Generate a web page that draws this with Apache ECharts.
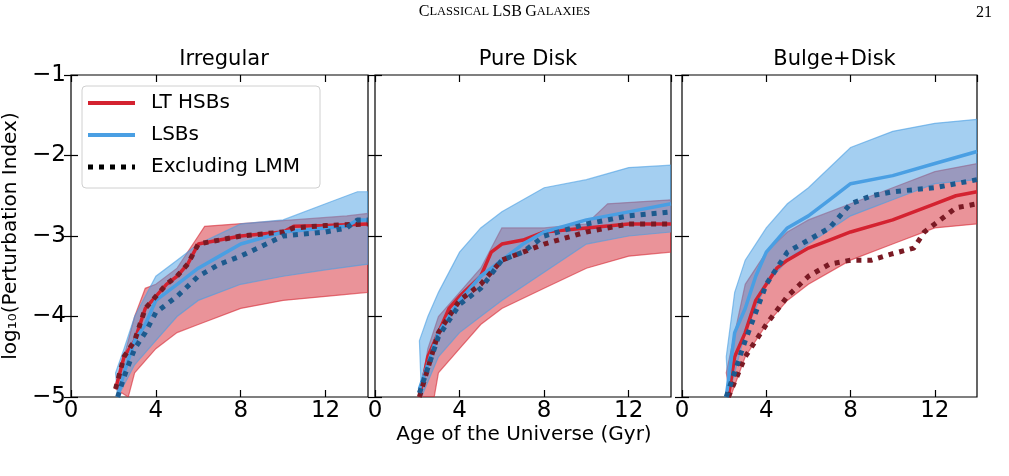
<!DOCTYPE html>
<html>
<head>
<meta charset="utf-8">
<script src="https://cdn.jsdelivr.net/npm/echarts@6/dist/echarts.min.js"></script>
<style>html,body{margin:0;padding:0;background:#fff}#chart{width:1009px;height:476px}</style>
</head>
<body>
<div id="chart"></div>
<script>
// panel titles, legend names and tick labels
var panels = ['Irregular', 'Pure Disk', 'Bulge+Disk'];
var legendNames = ['LT HSBs', 'LSBs', 'Excluding LMM'];
var xTicks = [0, 4, 8, 12];
var yTicks = [-1, -2, -3, -4, -5];

// Irregular
var irrHsb = [[2.1,-4.9],[2.5,-4.5],[3,-4.3],[3.5,-3.9],[4,-3.75],[4.5,-3.6],[5,-3.5],[5.5,-3.35],[6,-3.1],[7,-3.05],[8,-3.0],[10,-2.95],[10.5,-2.88],[12,-2.87],[14,-2.85]];
var irrHsbEx = [[2.1,-4.9],[2.5,-4.5],[3,-4.3],[3.5,-3.9],[4,-3.75],[4.5,-3.6],[5,-3.5],[5.5,-3.35],[6,-3.1],[7,-3.05],[8,-3.0],[10,-2.95],[10.5,-2.9],[12,-2.87],[14,-2.85]];
var irrLsb = [[2.2,-5],[2.5,-4.7],[3,-4.3],[3.5,-4.1],[4,-3.8],[5,-3.6],[6,-3.4],[7,-3.25],[8,-3.1],[10,-2.95],[12,-2.9],[13,-2.88],[13.5,-2.8],[14,-2.8]];
var irrLsbEx = [[2.2,-5],[2.5,-4.75],[3,-4.4],[3.5,-4.2],[4,-3.95],[5,-3.75],[6,-3.5],[7,-3.35],[8,-3.25],[10,-3.0],[12,-2.95],[13,-2.9],[13.5,-2.8],[14,-2.8]];
var irrHsbHi = [[2.1,-4.9],[2.5,-4.5],[3,-4.0],[3.5,-3.65],[4,-3.6],[5,-3.4],[6,-3.0],[6.3,-2.88],[13,-2.75],[14,-2.72]];
var irrHsbLo = [[2.7,-5],[3,-4.7],[4,-4.4],[5,-4.2],[6,-4.1],[8,-3.9],[10,-3.8],[12,-3.75],[14,-3.7]];
var irrLsbHi = [[2.1,-4.7],[2.5,-4.4],[3,-4.0],[4,-3.5],[5,-3.3],[6,-3.1],[8,-2.85],[10,-2.8],[12,-2.6],[13.5,-2.45],[14,-2.45]];
var irrLsbLo = [[2.2,-5],[3,-4.6],[4,-4.3],[5,-4.0],[6,-3.8],[8,-3.6],[10,-3.5],[12,-3.42],[14,-3.35]];

// Pure Disk
var pdHsb = [[2.1,-5],[2.5,-4.5],[3,-4.2],[3.5,-3.9],[4,-3.75],[5,-3.5],[5.5,-3.2],[6,-3.1],[7,-3.05],[8,-2.95],[10,-2.9],[12,-2.85],[14,-2.85]];
var pdHsbEx = [[2.1,-5],[3,-4.2],[4,-3.8],[5,-3.6],[6,-3.3],[7,-3.2],[8,-3.1],[10,-2.95],[12,-2.85],[14,-2.85]];
var pdLsb = [[2.1,-4.9],[3,-4.2],[4,-3.8],[5,-3.5],[6,-3.3],[7,-3.1],[8,-2.95],[10,-2.8],[12,-2.7],[14,-2.6]];
var pdLsbEx = [[2.1,-4.95],[3,-4.25],[4,-3.85],[5,-3.65],[6,-3.3],[7,-3.2],[8,-3.0],[10,-2.85],[12,-2.75],[14,-2.7]];
var pdHsbHi = [[2.1,-5],[2.5,-4.4],[3,-4.0],[4,-3.7],[5,-3.4],[6,-2.9],[8,-2.9],[10,-2.85],[11,-2.6],[14,-2.55]];
var pdHsbLo = [[2.8,-5],[3,-4.7],[4,-4.4],[5,-4.1],[6,-3.9],[8,-3.65],[10,-3.4],[12,-3.25],[14,-3.2]];
var pdLsbHi = [[2.1,-4.3],[2.5,-4.0],[3,-3.7],[4,-3.2],[5,-2.9],[6,-2.7],[8,-2.4],[10,-2.3],[12,-2.15],[14,-2.12]];
var pdLsbLo = [[2.2,-5],[3,-4.5],[4,-4.2],[5,-4.0],[6,-3.8],[8,-3.45],[10,-3.1],[12,-3.0],[14,-2.95]];

// Bulge+Disk
var bdHsb = [[2.2,-5],[2.5,-4.5],[3,-4.2],[3.5,-3.8],[4,-3.6],[4.5,-3.4],[5,-3.3],[6,-3.15],[7,-3.05],[8,-2.95],[10,-2.8],[12,-2.6],[13,-2.5],[14,-2.45]];
var bdHsbEx = [[2.2,-5],[3,-4.5],[4,-4.1],[5,-3.75],[6,-3.5],[7,-3.35],[8,-3.3],[9,-3.3],[10,-3.22],[11,-3.15],[11.5,-2.95],[12,-2.85],[13,-2.65],[14,-2.6]];
var bdLsb = [[2.1,-5],[2.5,-4.2],[3,-3.9],[3.5,-3.5],[4,-3.2],[5,-2.9],[6,-2.75],[7,-2.55],[8,-2.35],[10,-2.25],[12,-2.1],[14,-1.95]];
var bdLsbEx = [[2.1,-5],[3,-4.3],[4,-3.6],[5,-3.2],[6,-3.05],[7,-2.9],[8,-2.6],[9,-2.5],[10,-2.45],[12,-2.4],[14,-2.3]];
var bdHsbHi = [[2.1,-4.7],[3,-3.6],[4,-3.2],[5,-2.95],[6,-2.8],[8,-2.6],[10,-2.4],[12,-2.2],[14,-2.1]];
var bdHsbLo = [[2.3,-5],[3,-4.5],[4,-4.1],[5,-3.8],[6,-3.6],[8,-3.3],[10,-3.1],[12,-2.9],[14,-2.85]];
var bdLsbHi = [[2.1,-4.5],[2.5,-3.7],[3,-3.3],[4,-2.9],[5,-2.6],[6,-2.4],[8,-1.9],[10,-1.7],[12,-1.6],[14,-1.55]];
var bdLsbLo = [[2.2,-5],[3,-4.2],[4,-3.6],[5,-3.3],[6,-3.1],[8,-2.75],[10,-2.55],[12,-2.35],[14,-2.3]];

var data = [
    {hsb: irrHsb, hsbEx: irrHsbEx, lsb: irrLsb, lsbEx: irrLsbEx, hsbHi: irrHsbHi, hsbLo: irrHsbLo, lsbHi: irrLsbHi, lsbLo: irrLsbLo},
    {hsb: pdHsb, hsbEx: pdHsbEx, lsb: pdLsb, lsbEx: pdLsbEx, hsbHi: pdHsbHi, hsbLo: pdHsbLo, lsbHi: pdLsbHi, lsbLo: pdLsbLo},
    {hsb: bdHsb, hsbEx: bdHsbEx, lsb: bdLsb, lsbEx: bdLsbEx, hsbHi: bdHsbHi, hsbLo: bdHsbLo, lsbHi: bdLsbHi, lsbLo: bdLsbLo}
];

var RED = '#d42230', BLUE = '#4a9fe3', DRED = '#7a1a24', DBLUE = '#1d5a8e';
var gridPos = [[70, 298], [375, 296], [682, 295]];
var FONT = 'DejaVu Sans';
var DOT = [5, 6];

function bandSeries(i, hi, lo, fill, edge) {
    var poly = hi.concat(lo.slice().reverse());
    return {
        type: 'custom', xAxisIndex: i * 2, yAxisIndex: i * 2, silent: true,
        data: [0], clip: true, z: 1,
        renderItem: function (params, api) {
            var pts = poly.map(function (p) { return api.coord(p); });
            return {type: 'polygon', shape: {points: pts},
                style: {fill: fill, stroke: edge, lineWidth: 1.2}};
        }
    };
}
function lineSeries(i, d, color, dotted, z) {
    return {
        type: 'line', xAxisIndex: i * 2, yAxisIndex: i * 2, data: d,
        showSymbol: false, symbol: 'none', clip: true, z: z, silent: true,
        lineStyle: dotted ? {color: color, width: 5, type: DOT, cap: 'butt'} : {color: color, width: 3.5}
    };
}

var grids = [], xAxes = [], yAxes = [], titles = [], series = [];
gridPos.forEach(function (g, i) {
    grids.push({left: g[0], width: g[1], top: 75, height: 322, show: true, borderColor: '#000', borderWidth: 1.2, backgroundColor: 'transparent'});
    titles.push({text: panels[i], left: g[0] + g[1] / 2, top: 44, textAlign: 'center',
        textStyle: {fontFamily: FONT, fontSize: 21, fontWeight: 'normal', color: '#000'}});
    var tick = {show: true, inside: true, length: 7, lineStyle: {color: '#000', width: 1.2}};
    xAxes.push({gridIndex: i, type: 'value', min: 0, max: 14, interval: 4, position: 'bottom',
        axisLine: {show: false}, axisTick: tick, splitLine: {show: false},
        axisLabel: {fontFamily: FONT, fontSize: 23, color: '#000', margin: 3, showMaxLabel: false,
            formatter: function (v) { return xTicks.indexOf(v) >= 0 ? String(v) : ''; }}});
    xAxes.push({gridIndex: i, type: 'value', min: 0, max: 14, interval: 4, position: 'top',
        axisLine: {show: false}, axisTick: tick, splitLine: {show: false}, axisLabel: {show: false}});
    yAxes.push({gridIndex: i, type: 'value', min: -5, max: -1, interval: 1, position: 'left',
        axisLine: {show: false}, axisTick: tick, splitLine: {show: false},
        name: i === 0 ? 'log\u2081\u2080(Perturbation Index)' : '', nameLocation: 'middle', nameGap: 50, nameRotate: 90,
        nameTextStyle: {fontFamily: FONT, fontSize: 20, color: '#000'},
        axisLabel: {show: i === 0, fontFamily: FONT, fontSize: 23, color: '#000', margin: 5,
            formatter: function (v) { return yTicks.indexOf(v) >= 0 ? '\u2212' + Math.abs(v) : ''; }}});
    yAxes.push({gridIndex: i, type: 'value', min: -5, max: -1, interval: 1, position: 'right',
        axisLine: {show: false}, axisTick: tick, splitLine: {show: false}, axisLabel: {show: false}});

    var d = data[i];
    series.push(bandSeries(i, d.hsbHi, d.hsbLo, 'rgba(214,40,52,0.5)', 'rgba(214,40,52,0.6)'));
    series.push(bandSeries(i, d.lsbHi, d.lsbLo, 'rgba(74,159,227,0.5)', 'rgba(74,159,227,0.6)'));
    series.push(lineSeries(i, d.hsb, RED, false, 3));
    series.push(lineSeries(i, d.lsb, BLUE, false, 3));
    series.push(lineSeries(i, d.hsbEx, DRED, true, 4));
    series.push(lineSeries(i, d.lsbEx, DBLUE, true, 4));
});

// legend drawn as graphics
var legendColors = [RED, BLUE, '#000'];
var legendEls = [{type: 'rect', shape: {x: 82, y: 86, width: 238, height: 102, r: 4},
    style: {fill: 'rgba(255,255,255,0.85)', stroke: '#d0d0d0', lineWidth: 1}, z: 100}];
legendNames.forEach(function (n, k) {
    var y = 103 + k * 32;
    legendEls.push({type: 'line', shape: {x1: 88, y1: y, x2: 135, y2: y}, z: 101,
        style: {stroke: legendColors[k], lineWidth: k === 2 ? 5 : 4, lineDash: k === 2 ? DOT : null}});
    legendEls.push({type: 'text', x: 151, y: y, z: 101,
        style: {text: n, fontFamily: FONT, fontSize: 20, fill: '#000', verticalAlign: 'middle'}});
});

var chart = echarts.init(document.getElementById('chart'));
chart.setOption({
    animation: false,
    backgroundColor: '#fff',
    title: titles,
    grid: grids,
    xAxis: xAxes,
    yAxis: yAxes,
    graphic: [
        {type: 'text', left: 'center', top: 4, style: {text: '{a|C}{b|LASSICAL} {a|LSB} {a|G}{b|ALAXIES}',
            rich: {a: {fontFamily: 'Liberation Serif', fontSize: 16, fill: '#000'}, b: {fontFamily: 'Liberation Serif', fontSize: 12.5, fill: '#000'}}}},
        {type: 'text', left: 976, top: 5, style: {text: '21', fontFamily: 'Liberation Serif', fontSize: 16, fill: '#000'}},
        {type: 'text', x: 524, y: 425, style: {text: 'Age of the Universe (Gyr)', fontFamily: FONT, fontSize: 20, fill: '#000', align: 'center'}}
    ].concat(legendEls),
    series: series
});
</script>
</body>
</html>
